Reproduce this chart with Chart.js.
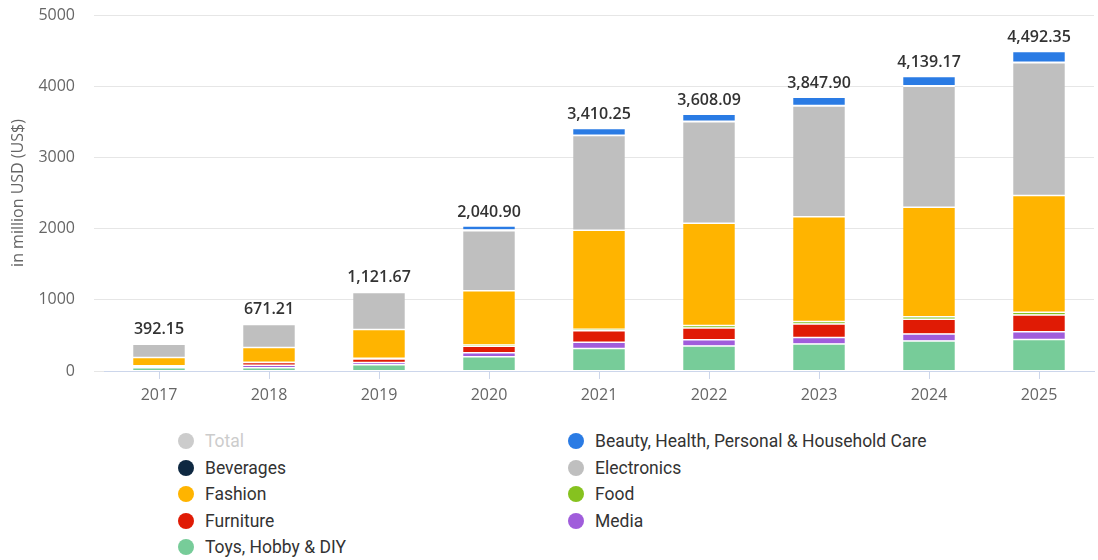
<!DOCTYPE html>
<html>
<head>
<meta charset="utf-8">
<script src="https://cdn.jsdelivr.net/npm/chart.js@4.4.1/dist/chart.umd.min.js"></script>
<style>
  html, body { margin: 0; padding: 0; background: #fff; }
  #wrap { position: relative; width: 1098px; height: 560px; }
  #legend {
    position: absolute; left: 178px; top: 428px;
    display: grid; grid-template-columns: 390px auto; grid-auto-rows: 26.5px;
    font-family: Roboto, "Open Sans", sans-serif; font-size: 17.5px; color: #333;
  }
  .item { display: flex; align-items: center; white-space: nowrap; }
  .dot { width: 16px; height: 16px; border-radius: 50%; margin-right: 11px; flex: none; }
</style>
</head>
<body>
<div id="wrap">
  <canvas id="barChart" width="1098" height="420"></canvas>
  <div id="legend"></div>
</div>
<script>
const years = ['2017', '2018', '2019', '2020', '2021', '2022', '2023', '2024', '2025'];
const totals = [392.15, 671.21, 1121.67, 2040.90, 3410.25, 3608.09, 3847.90, 4139.17, 4492.35];

const toys        = [50, 50, 92, 205, 318, 356, 382, 424, 446];
const media       = [10, 35, 30, 55, 88, 85, 92, 99, 110];
const furniture   = [12, 38, 50, 90, 163, 168, 188, 208, 233];
const food        = [6, 5, 10, 20, 20, 35, 35, 35, 40];
const fashion     = [115, 206, 405, 760, 1393, 1433.09, 1472.9, 1538.17, 1638];
const electronics = [187.15, 324.21, 518.67, 845, 1328.25, 1427, 1555, 1697, 1866.35];
const beverages   = [4, 5, 6, 10, 5, 8, 8, 8, 8];
const beauty      = [8, 8, 10, 55.9, 95, 96, 115, 130, 151];

// thin white separators between stacked pieces
const segment = (label, data, color) => ({
  label, data, backgroundColor: color,
  borderColor: '#ffffff', borderSkipped: false,
  borderWidth: { top: 1, bottom: 0.5, left: 0, right: 0 }
});

// bottom of the stack first
const datasets = [
  { label: 'Total', data: totals, backgroundColor: '#cccccc', hidden: true },
  segment('Toys, Hobby & DIY', toys, '#77cc99'),
  segment('Media', media, '#a05ddb'),
  segment('Furniture', furniture, '#e01b05'),
  segment('Food', food, '#86c21f'),
  segment('Fashion', fashion, '#ffb400'),
  segment('Electronics', electronics, '#bfbfbf'),
  segment('Beverages', beverages, '#0e2841'),
  segment('Beauty, Health, Personal & Household Care', beauty, '#2a7be4')
];

const fmt = (v) => v.toLocaleString('en-US', { minimumFractionDigits: 2, maximumFractionDigits: 2 });

const totalLabels = {
  id: 'totalLabels',
  afterDatasetsDraw(chart) {
    const { ctx, scales: { x, y } } = chart;
    ctx.save();
    ctx.font = '600 16px "Open Sans", sans-serif';
    ctx.fillStyle = '#333333';
    ctx.textAlign = 'center';
    ctx.textBaseline = 'alphabetic';
    totals.forEach((t, i) => {
      ctx.fillText(fmt(t), x.getPixelForValue(i), y.getPixelForValue(t) - 9);
    });
    ctx.restore();
  }
};

const tickFont = { family: '"Open Sans", sans-serif', size: 16 };

const barChart = new Chart(document.getElementById('barChart'), {
  type: 'bar',
  data: { labels: years, datasets },
  options: {
    responsive: false,
    animation: false,
    layout: { padding: { top: 15, right: 4, left: 0, bottom: 0 } },
    plugins: { legend: { display: false }, tooltip: { enabled: false } },
    datasets: { bar: { barPercentage: 0.47, categoryPercentage: 1 } },
    scales: {
      x: {
        stacked: true,
        afterFit: (s) => { s.height = 49; },
        grid: { offset: false, drawOnChartArea: false, drawTicks: true, tickLength: 8, color: '#ccd6eb' },
        border: { color: '#ccd6eb' },
        ticks: { color: '#666666', font: tickFont, padding: 7 }
      },
      y: {
        stacked: true,
        min: 0,
        max: 5000,
        // fixed axis width; keep the label padding from pushing the plot down
        afterFit: (s) => { s.width = 104; s.paddingTop = 10; s.paddingBottom = 10; },
        grid: { color: '#e6e6e6', tickLength: 10 },
        border: { display: false },
        ticks: { stepSize: 1000, color: '#666666', font: tickFont, padding: 19, callback: (v) => String(v) },
        title: {
          display: true,
          text: 'in million USD (US$)',
          color: '#666666',
          font: tickFont,
          padding: { top: 9, bottom: 0 }
        }
      }
    }
  },
  plugins: [totalLabels]
});

// two-column legend: Total first, then categories top of stack to bottom
const legendSets = [barChart.data.datasets[0], ...barChart.data.datasets.slice(1).reverse()];
const legendEl = document.getElementById('legend');
legendSets.forEach((ds) => {
  const idx = barChart.data.datasets.indexOf(ds);
  const on = barChart.isDatasetVisible(idx);
  const item = document.createElement('div');
  item.className = 'item';
  item.innerHTML = `<span class="dot" style="background:${ds.backgroundColor}"></span>`;
  const txt = document.createElement('span');
  txt.textContent = ds.label;
  if (!on) txt.style.color = '#cccccc';
  item.appendChild(txt);
  legendEl.appendChild(item);
});
</script>
</body>
</html>
